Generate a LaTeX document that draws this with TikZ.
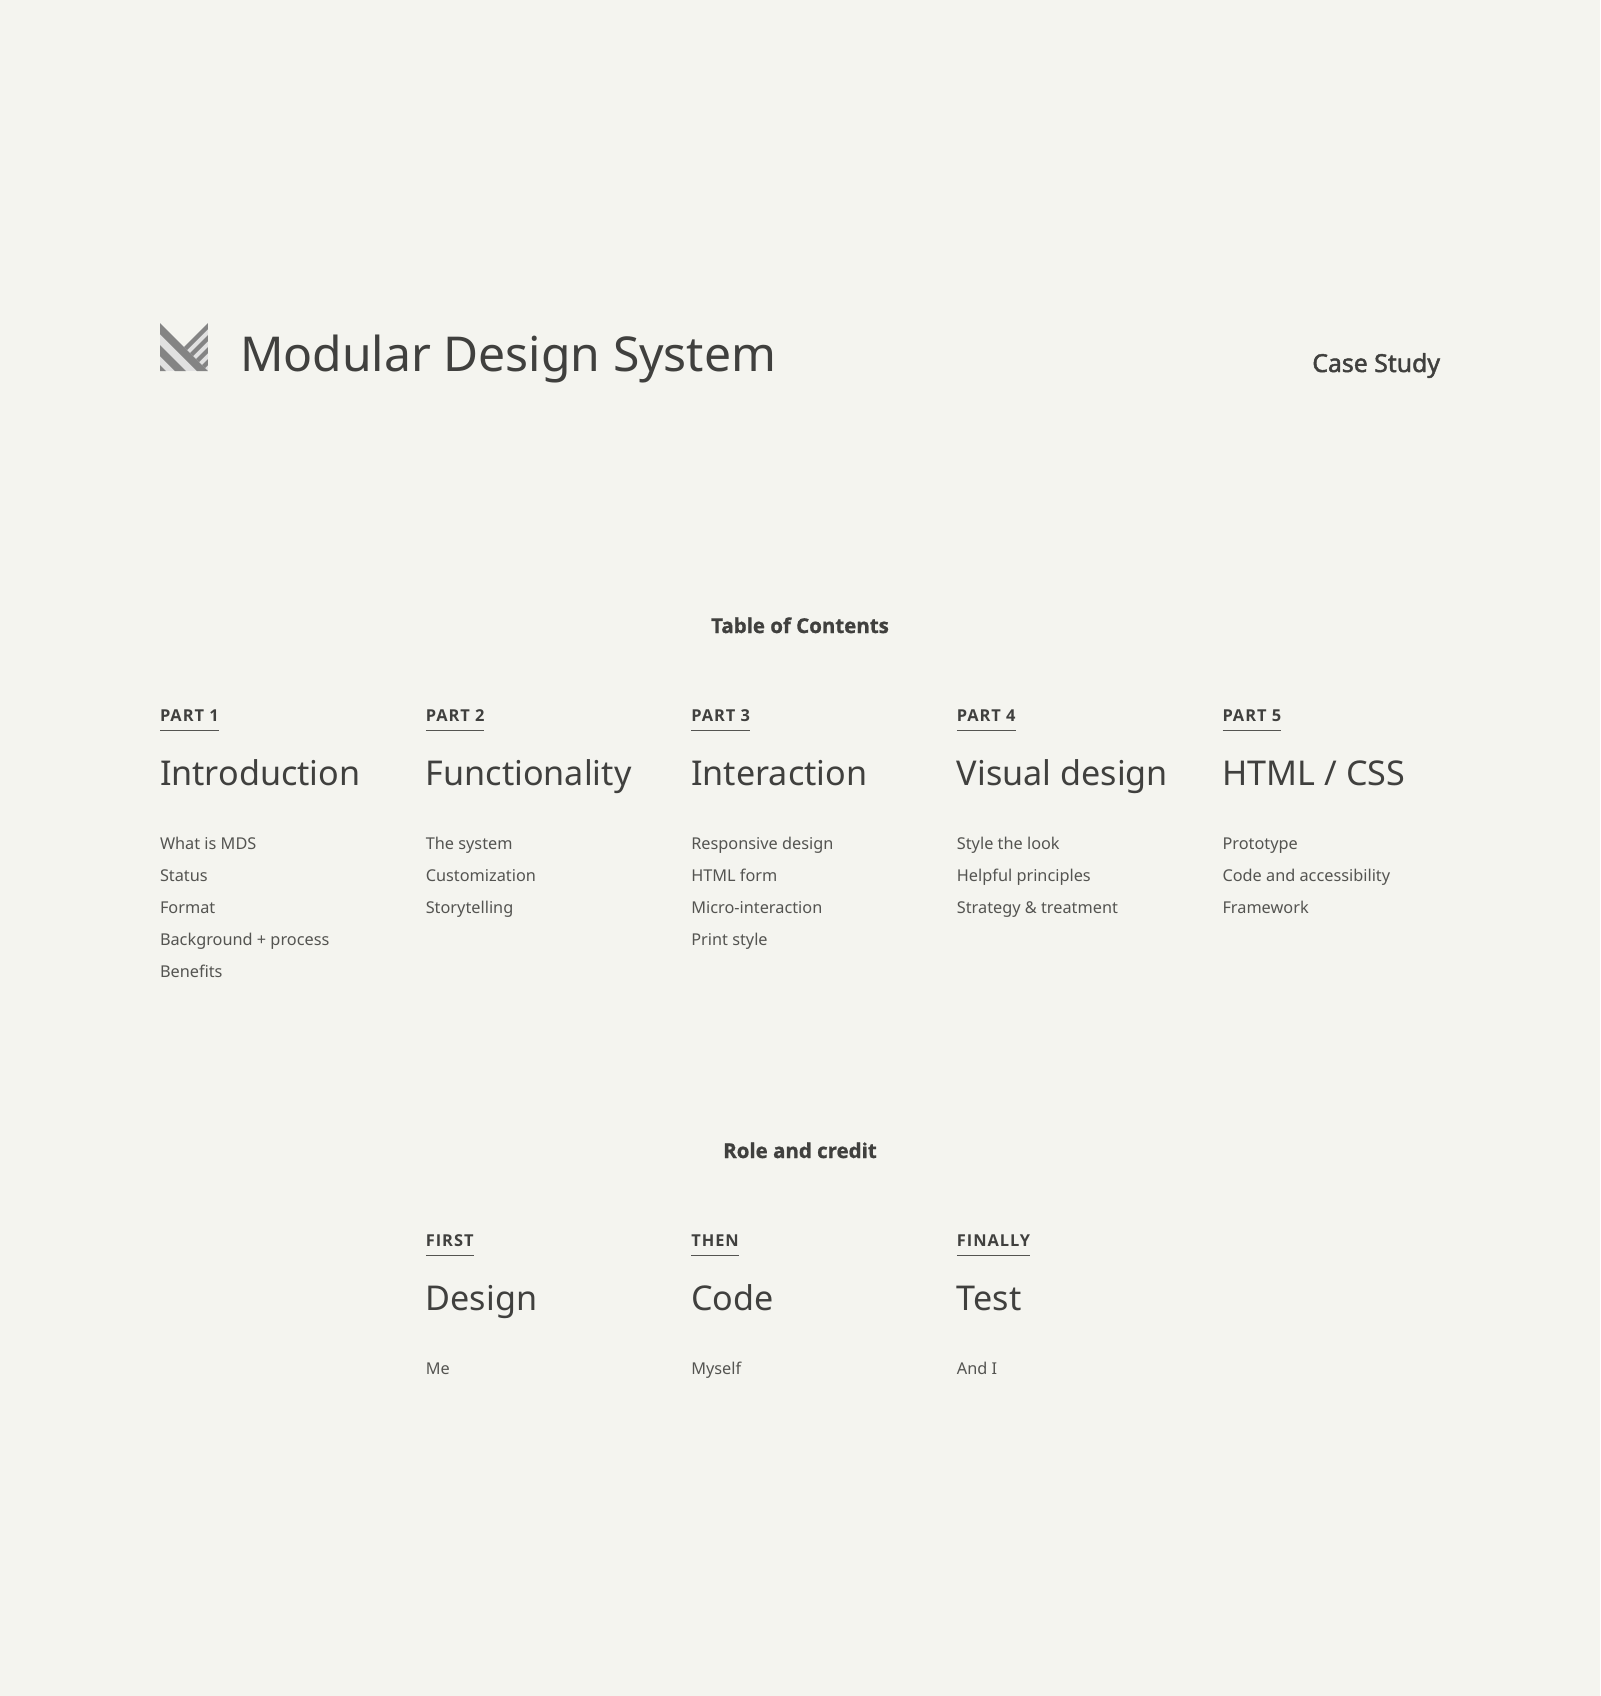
\documentclass[tikz,border=0pt]{standalone}
\usepackage{fontspec}
\setmainfont{Noto Sans}
\newfontfamily\heavyfont{Open Sans}[FakeBold=1]
\newfontfamily\partfont{Open Sans}
\newfontfamily\semifont{Noto Sans}[FakeBold=1.8]
\definecolor{bgc}{RGB}{244,244,239}
\definecolor{ink}{RGB}{64,64,62}
\definecolor{soft}{RGB}{84,84,81}
\definecolor{logod}{RGB}{132,132,132}
\definecolor{logol}{RGB}{225,225,225}
\tikzset{
  x=0.75pt,y=-0.75pt,
  txt/.style={anchor=base west,inner sep=0pt,outer sep=0pt},
  titletext/.style={txt,text=ink,font=\fontsize{36.05}{46}\selectfont},
  casetext/.style={txt,anchor=base east,text=ink,font=\semifont\fontsize{18.6}{22}\selectfont},
  headtext/.style={txt,anchor=base,text=ink,font=\heavyfont\fontsize{15.35}{20}\selectfont\bfseries},
  parttext/.style={txt,text=ink,font=\partfont\fontsize{12.3}{15}\selectfont\bfseries,inner sep=0pt},
  bigtext/.style={txt,text=ink,font=\fontsize{25.6}{32}\selectfont},
  itemtext/.style={txt,text=soft,font=\fontsize{12.22}{16}\selectfont},
  rulel/.style={draw=soft,line width=0.75pt},
}
\newcommand{\partlabel}[4]{%
  \node[parttext] (#1) at (#2,#3) {\addfontfeature{LetterSpace=6}#4};
  \draw[rulel] (#1.west |- 0,#3+9.8) -- (#1.east |- 0,#3+9.8);
}
\begin{document}
\begin{tikzpicture}
\useasboundingbox (0,0) rectangle (1600,1696);
\fill[bgc] (0,0) rectangle (1600,1696);
% logo
\begin{scope}
\clip (160,323) -- (184,347) -- (208,323) -- (208,371) -- (160,371) -- cycle;
\fill[logol] (160,323) rectangle (208,371);
\fill[logod] (160,323) -- (160,334) -- (198,372) -- (209,372) -- cycle;
\fill[logod] (160,345) -- (160,356) -- (176,372) -- (187,372) -- cycle;
\fill[logod] (160,365) -- (160,372) -- (167,372) -- cycle;
\fill[logod] (184,347) -- (208,323) -- (208,329) -- (187,350) -- cycle;
\fill[logod] (190,353) -- (208,335) -- (208,341) -- (193,356) -- cycle;
\fill[logod] (196,359) -- (208,347) -- (208,353) -- (199,362) -- cycle;
\fill[logod] (202,365) -- (208,359) -- (208,365) -- (205,368) -- cycle;
\end{scope}
\node[titletext] (title) at (240,371) {Modular Design System};
\node[casetext] (case) at (1440,372) {Case Study};
\node[headtext] (toc) at (800,633) {Table of Contents};
\partlabel{p1}{160}{721}{PART 1}
\partlabel{p2}{425.8}{721}{PART 2}
\partlabel{p3}{691.3}{721}{PART 3}
\partlabel{p4}{956.9}{721}{PART 4}
\partlabel{p5}{1222.5}{721}{PART 5}
\node[bigtext] (b1) at (160,785) {Introduction};
\node[bigtext] (b2) at (425.8,785) {Functionality};
\node[bigtext] (b3) at (691.3,785) {Interaction};
\node[bigtext] (b4) at (956.9,785) {Visual design};
\node[bigtext] (b5) at (1222.5,785) {HTML / CSS};
\node[itemtext] (a1) at (160,849) {What is MDS};
\node[itemtext] (a2) at (160,881) {Status};
\node[itemtext] (a3) at (160,913) {Format};
\node[itemtext] (a4) at (160,945) {Background + process};
\node[itemtext] (a5) at (160,977) {Benefits};
\node[itemtext] (c1) at (425.8,849) {The system};
\node[itemtext] (c2) at (425.8,881) {Customization};
\node[itemtext] (c3) at (425.8,913) {Storytelling};
\node[itemtext] (d1) at (691.3,849) {Responsive design};
\node[itemtext] (d2) at (691.3,881) {HTML form};
\node[itemtext] (d3) at (691.3,913) {Micro-interaction};
\node[itemtext] (d4) at (691.3,945) {Print style};
\node[itemtext] (e1) at (956.9,849) {Style the look};
\node[itemtext] (e2) at (956.9,881) {Helpful principles};
\node[itemtext] (e3) at (956.9,913) {Strategy \& treatment};
\node[itemtext] (f1) at (1222.5,849) {Prototype};
\node[itemtext] (f2) at (1222.5,881) {Code and accessibility};
\node[itemtext] (f3) at (1222.5,913) {Framework};
\node[headtext] (role) at (800,1158) {Role and credit};
\partlabel{r1}{425.8}{1246}{FIRST}
\partlabel{r2}{691.3}{1246}{THEN}
\partlabel{r3}{956.9}{1246}{FINALLY}
\node[bigtext] (g1) at (425.8,1310) {Design};
\node[bigtext] (g2) at (691.3,1310) {Code};
\node[bigtext] (g3) at (956.9,1310) {Test};
\node[itemtext] (h1) at (425.8,1374) {Me};
\node[itemtext] (h2) at (691.3,1374) {Myself};
\node[itemtext] (h3) at (956.9,1374) {And I};
\end{tikzpicture}
\end{document}
